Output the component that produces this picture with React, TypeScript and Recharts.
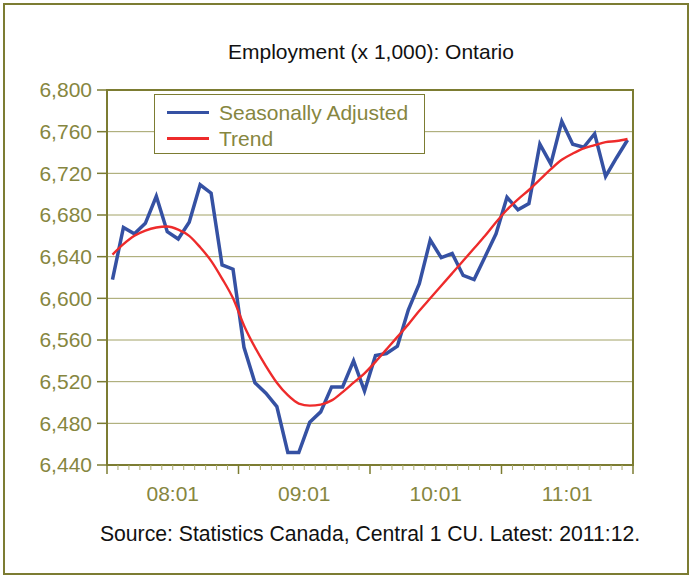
import React from 'react';
import { LineChart, Line, XAxis, YAxis, CartesianGrid, ReferenceArea } from 'recharts';

// 2008:01 .. 2011:12
const months = [
  '08:01', '08:02', '08:03', '08:04', '08:05', '08:06', '08:07', '08:08', '08:09', '08:10', '08:11', '08:12',
  '09:01', '09:02', '09:03', '09:04', '09:05', '09:06', '09:07', '09:08', '09:09', '09:10', '09:11', '09:12',
  '10:01', '10:02', '10:03', '10:04', '10:05', '10:06', '10:07', '10:08', '10:09', '10:10', '10:11', '10:12',
  '11:01', '11:02', '11:03', '11:04', '11:05', '11:06', '11:07', '11:08', '11:09', '11:10', '11:11', '11:12',
];

const seasonallyAdjusted = [
  6618, 6668, 6662, 6672, 6698, 6664, 6657, 6673, 6709, 6701, 6632, 6628,
  6553, 6519, 6509, 6496, 6452, 6452, 6481, 6491, 6515, 6515, 6540, 6511,
  6545, 6547, 6554, 6589, 6614, 6656, 6639, 6643, 6622, 6618, 6640, 6662,
  6697, 6685, 6691, 6748, 6729, 6770, 6748, 6745, 6758, 6717, 6735, 6752,
];

const trend = [
  6642, 6652, 6660, 6665, 6668, 6669, 6666, 6660, 6649, 6636, 6619, 6600,
  6574, 6553, 6535, 6519, 6507, 6499, 6497, 6498, 6502, 6510, 6519, 6528,
  6539, 6551, 6563, 6575, 6588, 6600, 6612, 6624, 6636, 6648, 6660, 6673,
  6685, 6695, 6704, 6714, 6724, 6733, 6739, 6744, 6747, 6750, 6751, 6753,
];

const yTicks = [6440, 6480, 6520, 6560, 6600, 6640, 6680, 6720, 6760, 6800];

const data = months.map((m, i) => ({
  pos: i + 0.5,
  month: m,
  sa: seasonallyAdjusted[i],
  trend: trend[i],
}));

// tick marks on every month boundary, year labels centred in each year
const xTicks = months.map((_, i) => i).concat(months.length);

const OLIVE = '#7c7c32';
const OLIVE_TEXT = '#868640';
const BLUE = '#3551a3';
const RED = '#ee2b2b';
const FONT = '"Liberation Sans", Arial, sans-serif';

const XTick = (props: any) => {
  const { x, y, payload } = props;
  const v = payload.value as number;
  const major = v % 12 === 0;
  const label = v % 12 === 6 ? months[v - 6] : null;
  return (
    <g>
      <line
        x1={x}
        x2={x}
        y1={y}
        y2={y + (major ? 9 : 5)}
        stroke={major ? OLIVE : '#aaaa70'}
        strokeWidth={major ? 1.5 : 1}
      />
      {label && (
        <text x={x} y={y + 36} textAnchor="middle" fill={OLIVE_TEXT} fontSize={21} fontFamily={FONT}>
          {label}
        </text>
      )}
    </g>
  );
};

const App: React.FC = () => {
  return (
    <div style={{ position: 'relative', width: 691, height: 577, background: '#fff', fontFamily: FONT }}>
      <style>{'body{margin:0}'}</style>
      <div
        style={{
          position: 'absolute',
          left: 3,
          top: 3,
          width: 686,
          height: 572,
          border: `2px solid ${OLIVE}`,
          boxSizing: 'border-box',
        }}
      />
      <div
        style={{
          position: 'absolute',
          left: 121,
          width: 500,
          top: 41,
          fontSize: 21,
          lineHeight: '21px',
          textAlign: 'center',
          color: '#111',
        }}
      >
        Employment (x 1,000): Ontario
      </div>
      <div style={{ position: 'absolute', left: 0, top: 0 }}>
        <LineChart width={691} height={577} data={data} margin={{ top: 90, right: 58, left: 0, bottom: 72 }}>
          <CartesianGrid horizontal vertical={false} stroke="#a2a266" strokeWidth={1} />
          <XAxis
            dataKey="pos"
            type="number"
            domain={[0, months.length]}
            ticks={xTicks}
            interval={0}
            height={40}
            tickSize={0}
            tickMargin={0}
            tick={<XTick />}
            axisLine={{ stroke: OLIVE, strokeWidth: 2 }}
          />
          <YAxis
            type="number"
            domain={[6440, 6800]}
            ticks={yTicks}
            interval={0}
            width={107}
            tickSize={10}
            tickMargin={5}
            tickFormatter={(v: number) => v.toLocaleString('en-US')}
            tick={{ fill: OLIVE_TEXT, fontSize: 21, fontFamily: FONT }}
            tickLine={{ stroke: OLIVE, strokeWidth: 1.5 }}
            axisLine={{ stroke: OLIVE, strokeWidth: 2 }}
          />
          <ReferenceArea
            x1={0}
            x2={months.length}
            y1={6440}
            y2={6800}
            fill="none"
            fillOpacity={0}
            stroke={OLIVE}
            strokeWidth={2}
          />
          <Line
            type="linear"
            dataKey="sa"
            stroke={BLUE}
            strokeWidth={3.5}
            dot={false}
            isAnimationActive={false}
          />
          <Line
            type="monotone"
            dataKey="trend"
            stroke={RED}
            strokeWidth={2.4}
            dot={false}
            isAnimationActive={false}
          />
        </LineChart>
      </div>
      {/* legend box */}
      <div
        style={{
          position: 'absolute',
          left: 154,
          top: 94,
          width: 271,
          height: 60,
          border: `1.5px solid ${OLIVE}`,
          background: '#fff',
          boxSizing: 'border-box',
        }}
      >
        {[
          { name: 'Seasonally Adjusted', color: BLUE, top: 5 },
          { name: 'Trend', color: RED, top: 31 },
        ].map((it) => (
          <div key={it.name} style={{ position: 'absolute', left: 12, top: it.top, height: 24, display: 'flex', alignItems: 'center' }}>
            <div style={{ width: 42, height: 3, background: it.color }} />
            <span
              style={{
                marginLeft: 10,
                fontSize: 21,
                lineHeight: '24px',
                color: OLIVE_TEXT,
                whiteSpace: 'nowrap',
                position: 'relative',
                top: 1,
              }}
            >
              {it.name}
            </span>
          </div>
        ))}
      </div>
      <div
        style={{
          position: 'absolute',
          left: 70,
          width: 600,
          top: 523,
          fontSize: 21.2,
          lineHeight: '21px',
          textAlign: 'center',
          color: '#111',
        }}
      >
        Source: Statistics Canada, Central 1 CU. Latest: 2011:12.
      </div>
    </div>
  );
};

export default App;
